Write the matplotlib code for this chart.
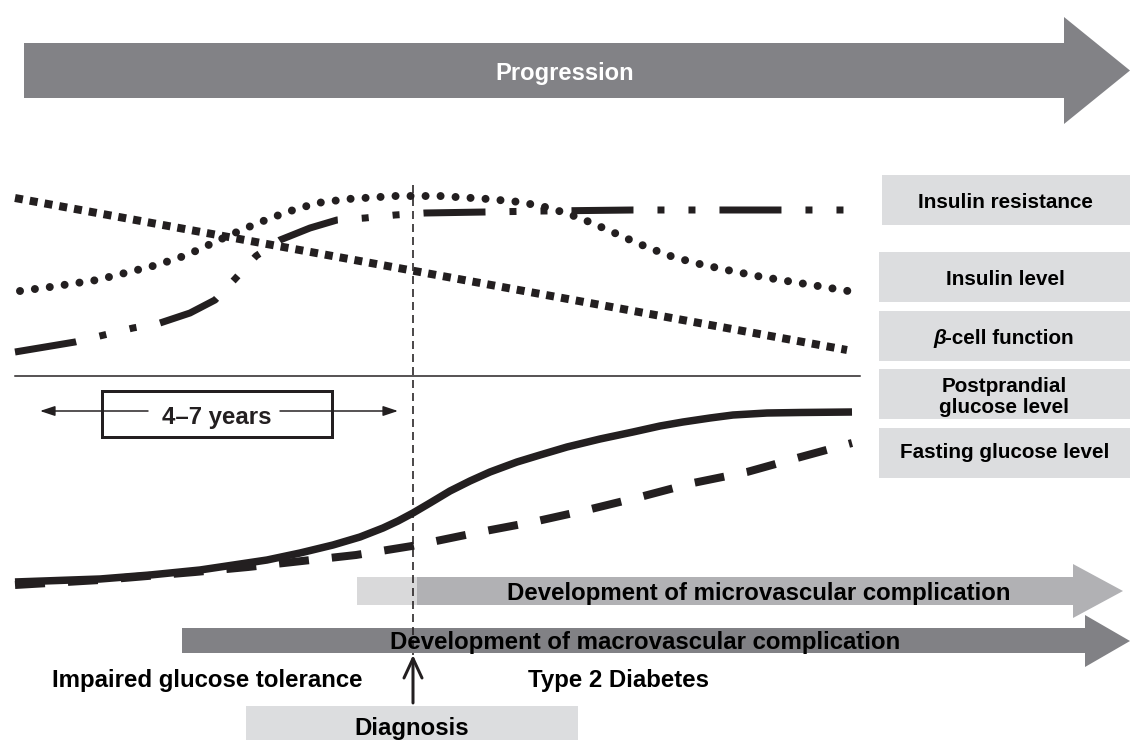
import matplotlib
matplotlib.use("Agg")
import matplotlib.pyplot as plt
from matplotlib.patches import Polygon, Rectangle

plt.rcParams['lines.scale_dashes'] = False
FONT = 'Liberation Sans'
INK = '#231f20'

# ---------------- data (pixel units) ----------------
beta_x = [15, 847]
beta_y = [198, 350]

ins_level_x = [20, 50, 97, 157, 187, 202, 230, 258, 287, 317, 348, 395, 440, 488,
               520, 550, 580, 608, 637, 667, 695, 727, 757, 787, 818, 848]
ins_level_y = [291, 287, 280, 265, 255, 248, 235, 223, 212, 203, 199, 196, 196, 199,
               202, 208, 218, 230, 243, 255, 263, 270, 276, 281, 286, 291]

ins_res_x = [15, 75, 133, 160, 190, 215, 235, 256, 280, 310, 337, 365, 395, 425,
             485, 543, 633, 845]
ins_res_y = [352, 342, 328, 323, 313, 300, 279, 256, 240, 228, 220, 218, 215, 213,
             212, 211, 210, 210]

post_x = [15, 100, 150, 200, 267, 300, 333, 360, 383, 398, 413, 430, 450, 470, 490,
          517, 540, 567, 600, 633, 660, 683, 710, 733, 767, 800, 852]
post_y = [582, 579, 575, 570, 560, 553, 545, 537, 528, 521, 513, 503, 491, 481, 472,
          462, 455, 447, 439, 432, 426, 422, 418, 415, 413, 412.5, 412]

fast_x = [15, 100, 195, 248, 302, 356, 412, 480, 533, 587, 640, 693, 747, 797, 852]
fast_y = [585, 580, 572, 567, 561, 555, 546, 532, 522, 510, 497, 483, 472, 458, 443]

legend_labels = ['Insulin resistance', 'Insulin level', 'β-cell function',
                 'Postprandial\nglucose level', 'Fasting glucose level']
diagnosis_x = 413

# ---------------- figure ----------------
fig = plt.figure(figsize=(11.3, 7.4), dpi=100)
ax = fig.add_axes([0, 0, 1, 1])
ax.set_xlim(0, 1130)
ax.set_ylim(740, 0)
ax.axis('off')

px = 0.72  # points per pixel


def arrow_poly(x0, x1, y0, y1, head_x, head_top, head_bot, tip_x, color, z=1):
    ym = (head_top + head_bot) / 2
    verts = [(x0, y0), (head_x, y0), (head_x, head_top), (tip_x, ym),
             (head_x, head_bot), (head_x, y1), (x0, y1)]
    ax.add_patch(Polygon(verts, closed=True, facecolor=color, edgecolor='none', zorder=z))


def styled(line, seq, cap):
    line.set_linestyle((0, seq))
    line.set_dash_capstyle(cap)


# Progression arrow
arrow_poly(24, 1064, 43, 98, 1064, 17, 124, 1130, '#828286')
ax.text(565, 80, 'Progression', color='white', fontsize=17.1, fontweight='bold',
        family=FONT, ha='center', va='baseline')

# Upper panel curves
l1, = ax.plot(beta_x, beta_y, color=INK, lw=8 * px)
styled(l1, (8 * px, 7 * px), 'butt')

l2, = ax.plot(ins_level_x, ins_level_y, color=INK, lw=8 * px)
styled(l2, (0.01, 15 * px), 'round')

l3, = ax.plot(ins_res_x, ins_res_y, color=INK, lw=7 * px)
styled(l3, (62 * px, 24 * px, 7 * px, 24 * px, 7 * px, 24 * px), 'butt')

# separator line
ax.plot([15, 860], [376, 376], color=INK, lw=1.5 * px)

# Lower panel curves
ax.plot(post_x, post_y, color=INK, lw=7.5 * px, solid_capstyle='butt', solid_joinstyle='round')
l5, = ax.plot(fast_x, fast_y, color=INK, lw=8 * px)
styled(l5, (30 * px, 23 * px), 'butt')

# 4-7 years box
ax.add_patch(Rectangle((102, 391), 230, 46, fill=False, edgecolor=INK, lw=3 * px, zorder=3))
ax.text(217, 424, '4–7 years', fontsize=17.3, fontweight='bold', family=FONT,
        ha='center', va='baseline', color=INK)
for xs, xe in [(148, 40), (280, 398)]:
    ax.annotate('', xy=(xe, 411), xytext=(xs, 411),
                arrowprops=dict(arrowstyle='-|>,head_length=0.9,head_width=0.3',
                                lw=1.5 * px, color=INK, shrinkA=0, shrinkB=0))

# Legend boxes
box_tops = [175, 252, 311, 369, 428]
box_left = [882, 879, 879, 879, 879]
box_h = 50
baselines = [208, 285, 344, None, 458]
for i, lab in enumerate(legend_labels):
    ax.add_patch(Rectangle((box_left[i], box_tops[i]), 1130 - box_left[i], box_h,
                           facecolor='#dcdddf', edgecolor='none', zorder=1))
    if i == 2:
        continue
    if i == 3:
        l_a, l_b = lab.split('\n')
        ax.text(1004, 392, l_a, fontsize=14.9, fontweight='bold', family=FONT,
                ha='center', va='baseline', color='black')
        ax.text(1004, 413, l_b, fontsize=14.9, fontweight='bold', family=FONT,
                ha='center', va='baseline', color='black')
    else:
        ax.text(1005, baselines[i], lab, fontsize=14.9, fontweight='bold', family=FONT,
                ha='center', va='baseline', color='black')

# beta-cell label (italic beta)
fig.canvas.draw()
r = fig.canvas.get_renderer()
tb = ax.text(0, 344, 'β', fontsize=14.9, fontweight='bold', style='italic', family=FONT,
             ha='left', va='baseline', color='black')
tr = ax.text(0, 344, '-cell function', fontsize=14.9, fontweight='bold', family=FONT,
             ha='left', va='baseline', color='black')
wb = tb.get_window_extent(r).width
wr = tr.get_window_extent(r).width
x0 = 1004 - (wb + wr) / 2
tb.set_x(x0)
tr.set_x(x0 + wb - 1)

# Complication arrows
ax.add_patch(Rectangle((357, 577), 60, 28, facecolor='#d9d9da', edgecolor='none', zorder=1))
arrow_poly(417, 1073, 577, 605, 1073, 564, 618, 1123, '#b1b1b4')
arrow_poly(182, 1085, 628, 653, 1085, 615, 667, 1130, '#818185')

# Diagnosis vertical dashed line
lv, = ax.plot([diagnosis_x, diagnosis_x], [185, 655], color=INK, lw=1.6 * px, zorder=4)
lv.set_linestyle((0, (8 * px, 5 * px)))

ax.text(759, 600, 'Development of microvascular complication', fontsize=17.3,
        fontweight='bold', family=FONT, ha='center', va='baseline', color='black', zorder=5)
ax.text(645.5, 649, 'Development of macrovascular complication', fontsize=17.3,
        fontweight='bold', family=FONT, ha='center', va='baseline', color='black', zorder=5)

ax.text(207, 687, 'Impaired glucose tolerance', fontsize=17.3, fontweight='bold',
        family=FONT, ha='center', va='baseline', color='black')
ax.text(618.5, 687, 'Type 2 Diabetes', fontsize=17.3, fontweight='bold',
        family=FONT, ha='center', va='baseline', color='black')

# Diagnosis box + arrow
ax.add_patch(Rectangle((246, 706), 578 - 246, 40, facecolor='#dcdddf', edgecolor='none', zorder=1))
ax.text(412, 735, 'Diagnosis', fontsize=17.3, fontweight='bold', family=FONT,
        ha='center', va='baseline', color='black')
ax.annotate('', xy=(diagnosis_x, 655), xytext=(diagnosis_x, 703),
            arrowprops=dict(arrowstyle='->,head_length=1.4,head_width=0.65',
                            lw=3 * px, color=INK, shrinkA=0, shrinkB=0))

fig.savefig('out.png', dpi=100)
